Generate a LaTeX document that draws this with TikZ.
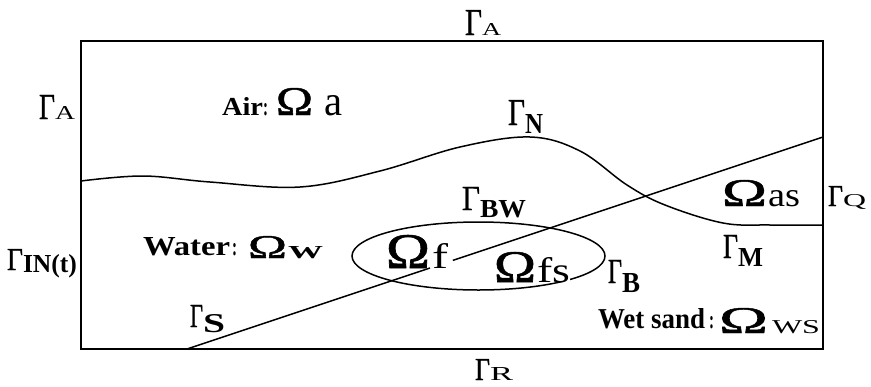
\documentclass[tikz,border=0pt]{standalone}
\usepackage{fontspec}
\setmainfont{Liberation Serif}
\newfontfamily\thk{Liberation Serif}[FakeBold=1.2]
\usepackage{graphicx}
\usetikzlibrary{calc}
\newcommand\RB[3]{\resizebox{#1pt}{#2pt}{#3}}
\newcommand\G{{\thk Γ}}
\newcommand\Om{{\thk Ω}}
\begin{document}
\begin{tikzpicture}[x=1pt,y=-1pt,
  lab/.style={anchor=base west, inner sep=0pt, outer sep=0pt},
  ln/.style={line width=1.5pt, black},
  border/.style={line width=1.5pt, black}]
\useasboundingbox (0,0) rectangle (871,386);
% domain border
\draw[border] (81,41) rectangle (823,349);
% interface curve
\draw[ln] plot[smooth, tension=0.6] coordinates {(81,181) (143,176) (210,182) (300,187) (380,171) (460,147) (530,137) (580,151) (627,185) (665,205) (723,223) (770,225) (823,225)};
% sand slope line, broken behind the label
\coordinate (s0) at (187,349);
\coordinate (s1) at (823,137);
\coordinate (g0) at ($(s0)!0.382!(s1)$);
\coordinate (g1) at ($(s0)!0.418!(s1)$);
\draw[ln] (s0) -- (g0);
\draw[ln] (g1) -- (s1);
% ellipse
\draw[ln] (478.5,256) ellipse [x radius=126.5pt, y radius=34pt];
% Gamma labels
\node[lab] (gAt) at (465,35) {\RB{17}{25}{\G}};
\node[lab] (gAts) at (482,35) {\RB{19}{12}{A}};
\node[lab] (gAl) at (39,119) {\RB{16}{24}{\G}};
\node[lab] (gAls) at (55,119) {\RB{20}{13}{A}};
\node[lab] (gN) at (508,125) {\RB{17}{25}{\G}};
\node[lab] (gNs) at (525,133) {\RB{18}{19}{\bfseries N}};
\node[lab] (gBW) at (462,210) {\RB{18}{23}{\G}};
\node[lab] (gBWs) at (480,217) {\RB{46}{17}{\bfseries BW}};
\node[lab] (gQ) at (828,206) {\RB{15}{20}{\G}};
\node[lab] (gQs) at (843,206) {\RB{23}{12}{Q}};
\node[lab] (gM) at (723,258) {\RB{15}{23}{\G}};
\node[lab] (gMs) at (738,266) {\RB{25}{18}{\bfseries M}};
\node[lab] (gB) at (608,283) {\RB{14}{23}{\G}};
\node[lab] (gBs) at (622,292) {\RB{18}{19}{\bfseries B}};
\node[lab] (gIN) at (7,270) {\RB{16}{21}{\G}};
\node[lab] (gINs) at (23,272) {\RB{54}{18}{\bfseries IN(t)}};
\node[lab] (gS) at (190,327) {\RB{13}{22}{\G}};
\node[lab] (gSs) at (203,332) {\RB{22}{18}{\bfseries S}};
\node[lab] (gR) at (475,380) {\RB{15}{21}{\G}};
\node[lab] (gRs) at (490,380) {\RB{23}{13}{R}};
% Air
\node[lab] (air) at (222,115) {\RB{41}{18}{\bfseries Air}};
\node[lab] (airc) at (263,115) {\RB{5}{12}{\bfseries :}};
\node[lab] (airO) at (276,115) {\RB{37}{27}{\Om}};
\node[lab] (airs) at (324,115) {\RB{18}{20}{a}};
% Water
\node[lab] (wat) at (143,255) {\RB{87}{18}{\bfseries Water}};
\node[lab] (watc) at (232,255) {\RB{5}{12}{\bfseries :}};
\node[lab] (watO) at (248,258) {\RB{39}{22}{\Om}};
\node[lab] (wats) at (288,258) {\RB{35}{12}{\bfseries W}};
% Omega f
\node[lab] (fO) at (386,268) {\RB{44}{33}{\Om}};
\node[lab] (fs) at (432,268) {\RB{16}{25}{f}};
% Omega fs
\node[lab] (fsO) at (494,282) {\RB{42}{30}{\Om}};
\node[lab, fill=white] (fss) at (537,282) {\RB{33}{25}{fs}};
% Omega as
\node[lab] (asO) at (722,206) {\RB{45}{26}{\Om}};
\node[lab] (ass) at (768,206) {\RB{32}{16}{as}};
% Wet sand
\node[lab] (ws) at (598,328) {\RB{107}{20}{\bfseries Wet sand}};
\node[lab] (wsc) at (709,328) {\RB{5}{12}{\bfseries :}};
\node[lab] (wsO) at (719,333) {\RB{49}{25}{\Om}};
\node[lab] (wss) at (772,333) {\RB{48}{13}{WS}};
\end{tikzpicture}
\end{document}
